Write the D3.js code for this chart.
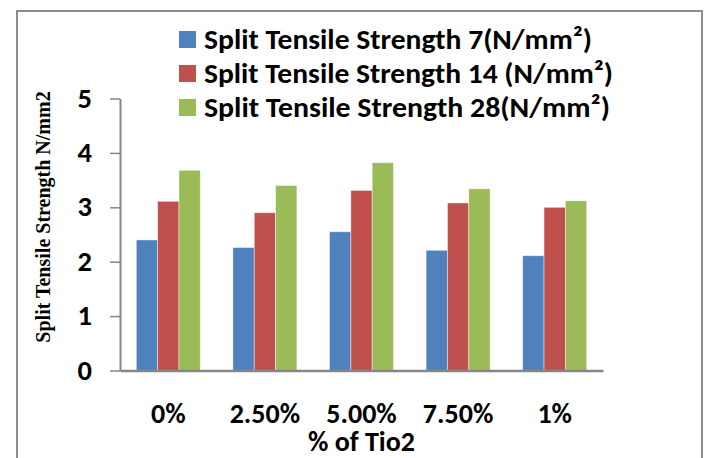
<!DOCTYPE html>
<html>
<head>
<meta charset="utf-8">
<script src="https://cdn.jsdelivr.net/npm/d3@7"></script>
<style>
  html, body { margin: 0; padding: 0; background: #fff; }
  svg { display: block; }
</style>
</head>
<body>
<svg id="chart" width="709" height="458"></svg>
<script>
const categories = ["0%", "2.50%", "5.00%", "7.50%", "1%"];
const seriesNames = [
  "Split Tensile Strength 7(N/mm²)",
  "Split Tensile Strength 14 (N/mm²)",
  "Split Tensile Strength 28(N/mm²)"
];
const strength7 = [2.40, 2.26, 2.55, 2.21, 2.11];
const strength14 = [3.11, 2.90, 3.31, 3.08, 3.00];
const strength28 = [3.68, 3.40, 3.82, 3.34, 3.12];
const yTicks = [0, 1, 2, 3, 4, 5];
const colors = ["#4F81BD", "#C0504D", "#9BBB59"];
const xTitle = "% of Tio2";
const yTitle = "Split Tensile Strength N/mm2";
const legendWidths = [388, 409, 406];

const series = [strength7, strength14, strength28];

const svg = d3.select("#chart");
const sansBold = "Calibri, Carlito, Lato, 'Open Sans', sans-serif";

// outer frame
svg.append("rect")
  .attr("x", 17).attr("y", 11)
  .attr("width", 685).attr("height", 460)
  .attr("fill", "none")
  .attr("stroke", "#8c8c8c")
  .attr("stroke-width", 2);

const plot = { left: 120, right: 603, top: 98.5, bottom: 370.5 };

const x0 = d3.scaleBand()
  .domain(categories)
  .range([plot.left, plot.right])
  .paddingInner(0.3375)
  .paddingOuter(0.3375 / 2);

const x1 = d3.scaleBand()
  .domain(d3.range(series.length))
  .range([0, x0.bandwidth()]);

const y = d3.scaleLinear().domain([0, 5]).range([plot.bottom, plot.top]);

// bars
const groups = svg.append("g").selectAll("g")
  .data(categories)
  .join("g")
  .attr("transform", d => `translate(${x0(d)},0)`);

groups.selectAll("rect")
  .data((d, i) => series.map((s, k) => ({ k, v: s[i] })))
  .join("rect")
  .attr("x", d => x1(d.k))
  .attr("y", d => y(d.v))
  .attr("width", x1.bandwidth())
  .attr("height", d => y(0) - y(d.v))
  .attr("fill", d => colors[d.k])
  .attr("stroke", "rgba(255,255,255,0.55)")
  .attr("stroke-width", 0.8);

// y axis
const yAxis = svg.append("g")
  .attr("transform", `translate(${plot.left},0)`)
  .call(d3.axisLeft(y).tickValues(yTicks).tickFormat(d3.format("d")).tickSize(10).tickSizeOuter(0).tickPadding(18));
yAxis.select(".domain").attr("stroke", "#868686").attr("stroke-width", 2);
yAxis.selectAll(".tick line").attr("stroke", "#868686").attr("stroke-width", 1.5);
yAxis.selectAll(".tick text")
  .attr("fill", "#000")
  .attr("dy", "0.3em")
  .style("font-family", sansBold)
  .style("font-weight", "bold")
  .style("font-size", "28.5px");

// x axis
const xAxis = svg.append("g")
  .attr("transform", `translate(0,${plot.bottom})`)
  .call(d3.axisBottom(x0).tickSize(0).tickSizeOuter(0).tickPadding(33));
xAxis.select(".domain").attr("stroke", "#868686").attr("stroke-width", 2.5);
xAxis.selectAll(".tick text")
  .attr("fill", "#000")
  .style("font-family", sansBold)
  .style("font-weight", "bold")
  .style("font-size", "28px");

// axis titles
svg.append("text")
  .attr("x", (plot.left + plot.right) / 2)
  .attr("y", 451)
  .attr("text-anchor", "middle")
  .style("font-family", sansBold)
  .style("font-weight", "bold")
  .style("font-size", "28px")
  .text(xTitle);

svg.append("text")
  .attr("transform", `translate(50,217) rotate(-90)`)
  .attr("text-anchor", "middle")
  .style("font-family", "'Liberation Serif', 'Times New Roman', serif")
  .style("font-weight", "bold")
  .style("font-size", "20px")
  .text(yTitle);

// legend
const legend = svg.append("g");
seriesNames.forEach((name, i) => {
  const gy = 31 + i * 34;
  legend.append("rect")
    .attr("x", 179).attr("y", gy)
    .attr("width", 17).attr("height", 17)
    .attr("fill", colors[i]);
  legend.append("text")
    .attr("x", 204).attr("y", gy + 17.5)
    .attr("textLength", legendWidths[i])
    .attr("lengthAdjust", "spacingAndGlyphs")
    .style("font-family", sansBold)
    .style("font-weight", "bold")
    .style("font-size", "28.5px")
    .text(name);
});
</script>
</body>
</html>
